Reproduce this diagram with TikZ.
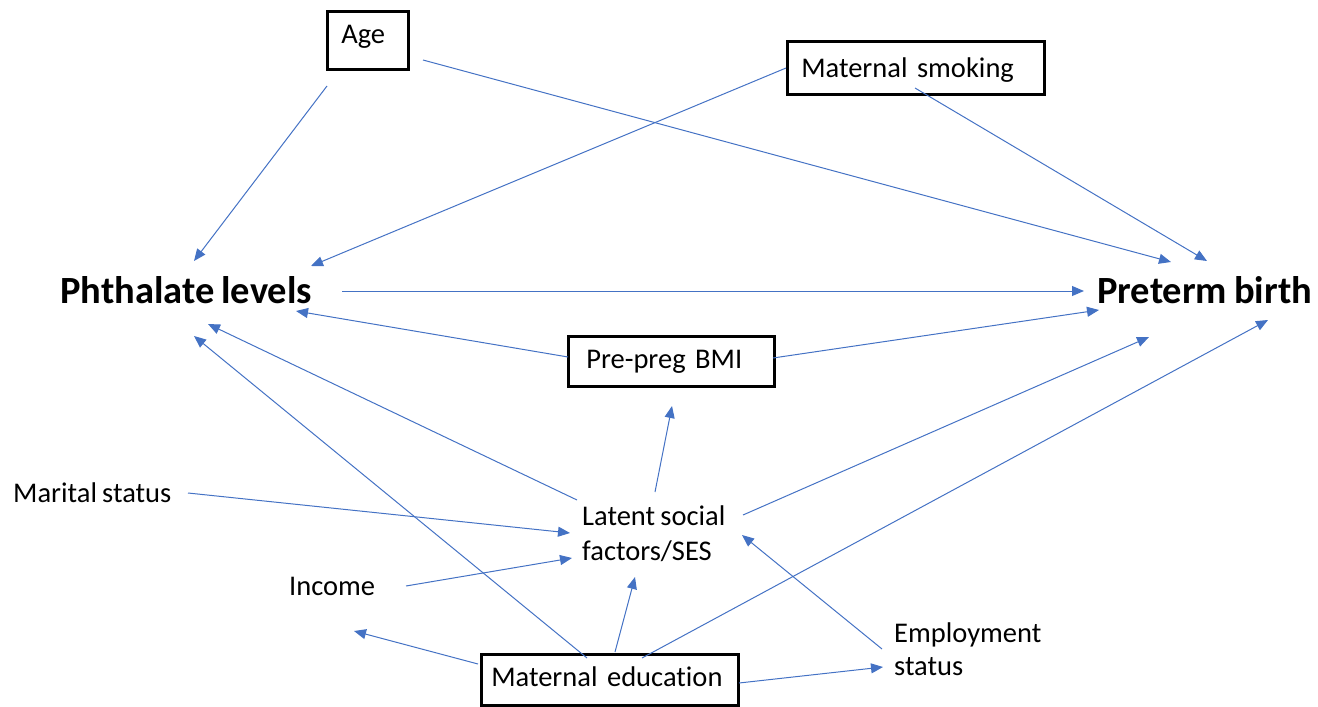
\documentclass[tikz,border=0pt]{standalone}
\usepackage{fontspec}
\setmainfont{Carlito}[Ligatures={NoCommon},WordSpace=0.8]
\usetikzlibrary{arrows.meta}
\definecolor{arrblue}{RGB}{68,114,196}
\tikzset{
  arr/.style={draw=arrblue, line width=1pt, -{Triangle[length=12pt,width=10pt]}},
  boxnode/.style={draw=black, line width=2.6pt, anchor=north west, inner ysep=0pt, align=left, font=\fontsize{28.5}{35}\selectfont},
  txt/.style={anchor=base west, inner sep=0pt, align=left, font=\fontsize{28.5}{34}\selectfont},
  big/.style={anchor=base west, inner sep=0pt, font=\fontsize{38.5}{46}\selectfont\bfseries}
}
\begin{document}
\begin{tikzpicture}[x=1pt,y=-1pt]
\useasboundingbox (0,0) rectangle (1318,707);
% boxed nodes
\node[boxnode, inner xsep=14pt, text width=53pt, text height=32pt, text depth=26pt] (age) at (326,10) {Age};
\node[boxnode, inner xsep=14pt, text width=229pt, text height=36pt, text depth=17pt] (smoke) at (786,40) {Maternal smoking};
\node[boxnode, inner xsep=18pt, text width=170pt, text height=32pt, text depth=18pt] (bmi) at (567,335) {Pre-preg BMI};
\node[boxnode, inner xsep=10pt, text width=237pt, text height=32pt, text depth=19pt] (edu) at (480,653) {Maternal education};
% text nodes
\node[big] (phth) at (60,303) {Phthalate levels};
\node[big] (pre) at (1097,303) {Preterm birth};
\node[txt] (marital) at (13,502) {Marital status};
\node[txt] (income) at (289,595) {Income};
\node[txt, font=\fontsize{28.5}{35}\selectfont] (latent) at (582,560) {Latent social\\factors/SES};
\node[txt, font=\fontsize{28.5}{33}\selectfont] (employ) at (894,675) {Employment\\status};
\coordinate (edufree) at (354,631);
% connectors
\draw[arr] ([shift={(1,76)}]age.north west) -- ([shift={(134,-42)}]phth.base west);
\draw[arr] ([shift={(97,50)}]age.north west) -- ([shift={(74,-41)}]pre.base west);
\draw[arr] ([shift={(0,28)}]smoke.north west) -- ([shift={(251,-37)}]phth.base west);
\draw[arr] ([shift={(129,48)}]smoke.north west) -- ([shift={(110,-42)}]pre.base west);
\draw[arr] ([shift={(282,-12)}]phth.base west) -- ([shift={(-13,-12)}]pre.base west);
\draw[arr] ([shift={(1,22)}]bmi.north west) -- ([shift={(236,8)}]phth.base west);
\draw[arr] ([shift={(206,23)}]bmi.north west) -- ([shift={(2,7)}]pre.base west);
\draw[arr] ([shift={(-5,-60)}]latent.base west) -- ([shift={(148,21)}]phth.base west);
\draw[arr] ([shift={(73,-68)}]latent.base west) -- ([shift={(105,71)}]bmi.north west);
\draw[arr] ([shift={(161,-45)}]latent.base west) -- ([shift={(52,34)}]pre.base west);
\draw[arr] ([shift={(175,-9)}]marital.base west) -- ([shift={(-12,-27)}]latent.base west);
\draw[arr] ([shift={(117,-9)}]income.base west) -- ([shift={(-10,-2)}]latent.base west);
\draw[arr] ([shift={(107,5)}]edu.north west) -- ([shift={(134,33)}]phth.base west);
\draw[arr] ([shift={(135,-1)}]edu.north west) -- ([shift={(53,17)}]latent.base west);
\draw[arr] ([shift={(162,5)}]edu.north west) -- ([shift={(171,17)}]pre.base west);
\draw[arr] ([shift={(-2,11)}]edu.north west) -- (edufree);
\draw[arr] ([shift={(259,30)}]edu.north west) -- ([shift={(-11,-8)}]employ.base west);
\draw[arr] ([shift={(-12,-26)}]employ.base west) -- ([shift={(160,-25)}]latent.base west);
\end{tikzpicture}
\end{document}
